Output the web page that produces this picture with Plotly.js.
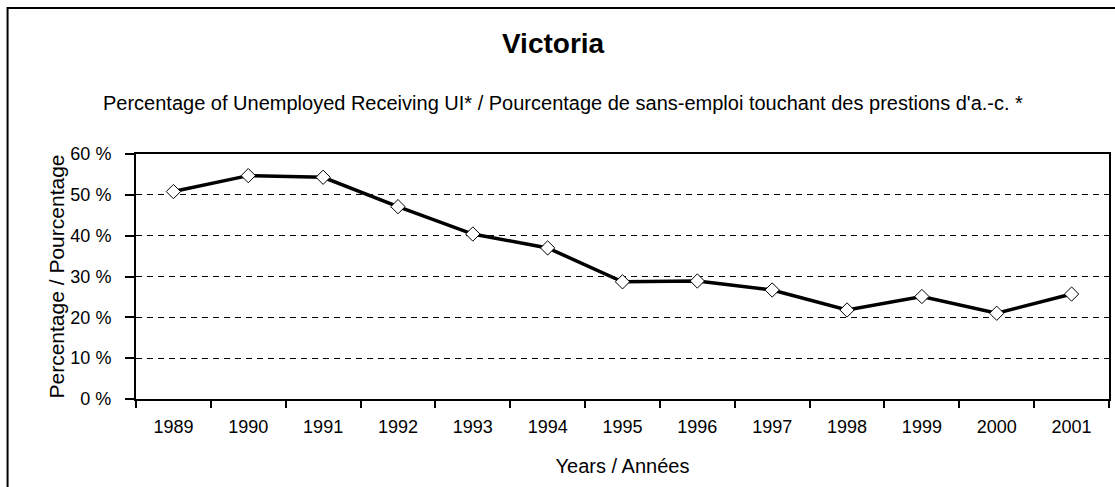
<!DOCTYPE html>
<html>
<head>
<meta charset="utf-8">
<script src="https://cdn.plot.ly/plotly-3.0.1.min.js"></script>
<style>
  html, body { margin: 0; padding: 0; background: #fff; }
  #chart { width: 1115px; height: 487px; }
</style>
</head>
<body>
<div id="chart"></div>
<script>
const years = ['1989','1990','1991','1992','1993','1994','1995','1996','1997','1998','1999','2000','2001'];
const pctReceivingUI = [50.8, 54.7, 54.3, 47.1, 40.4, 37.0, 28.7, 28.9, 26.7, 21.8, 25.1, 21.0, 25.7];
const yTickVals = [0, 10, 20, 30, 40, 50, 60];
const yTickText = ['0 %', '10 %', '20 %', '30 %', '40 %', '50 %', '60 %'];
const chartTitle = 'Victoria';
const chartSubtitle = "Percentage of Unemployed Receiving UI* / Pourcentage de sans-emploi touchant des prestions d'a.-c. *";
const xTitle = 'Years / Années';
const yTitle = 'Percentage / Pourcentage';

const FONT = 'Liberation Sans, Arial, sans-serif';

const trace = {
  type: 'scatter',
  mode: 'lines+markers',
  x: years,
  y: pctReceivingUI,
  line: { color: '#000', width: 3.5 },
  marker: { symbol: 'diamond', size: 11, color: '#fff', line: { color: '#000', width: 1 } },
  hoverinfo: 'x+y'
};

const layout = {
  width: 1115,
  height: 487,
  margin: { l: 136, r: 6, t: 154, b: 88 },
  paper_bgcolor: '#fff',
  plot_bgcolor: '#fff',
  showlegend: false,
  font: { family: FONT, color: '#000', size: 18 },
  title: {
    text: chartTitle,
    font: { family: FONT, size: 28, weight: 'bold', color: '#000' },
    x: 0.496, xanchor: 'center',
    y: 0.912, yanchor: 'middle'
  },
  xaxis: {
    type: 'category',
    range: [-0.5, 12.5],
    showline: true, linecolor: '#000', linewidth: 2, mirror: true,
    ticks: 'outside', ticklen: 7, tickcolor: '#000', tickwidth: 2,
    tickson: 'boundaries',
    ticklabelstandoff: 10,
    showgrid: false,
    tickfont: { family: FONT, size: 18, color: '#000' },
    title: { text: xTitle, font: { family: FONT, size: 20, color: '#000' }, standoff: 23 },
    fixedrange: true
  },
  yaxis: {
    range: [0, 60],
    tickvals: yTickVals,
    ticktext: yTickText,
    showline: true, linecolor: '#000', linewidth: 2, mirror: true,
    ticks: 'outside', ticklen: 9, tickcolor: '#000', tickwidth: 2,
    ticklabelstandoff: 10,
    showgrid: true, gridcolor: '#000', gridwidth: 1, griddash: '6px,5px',
    zeroline: false,
    tickfont: { family: FONT, size: 18, color: '#000' },
    title: { text: yTitle, font: { family: FONT, size: 21, color: '#000' }, standoff: 0 },
    fixedrange: true
  },
  annotations: [{
    text: chartSubtitle,
    xref: 'paper', yref: 'paper',
    x: 0.439, y: 1.208, xanchor: 'center', yanchor: 'middle',
    showarrow: false,
    font: { family: FONT, size: 20, color: '#000' }
  }],
  shapes: [{
    type: 'rect', xref: 'paper', yref: 'paper',
    x0: -0.132, x1: 1.2, y0: -0.6, y1: 1.596,
    line: { color: '#000', width: 2 },
    fillcolor: 'rgba(0,0,0,0)',
    layer: 'below'
  }]
};

Plotly.newPlot('chart', [trace], layout, { displayModeBar: false, staticPlot: true });
</script>
</body>
</html>
